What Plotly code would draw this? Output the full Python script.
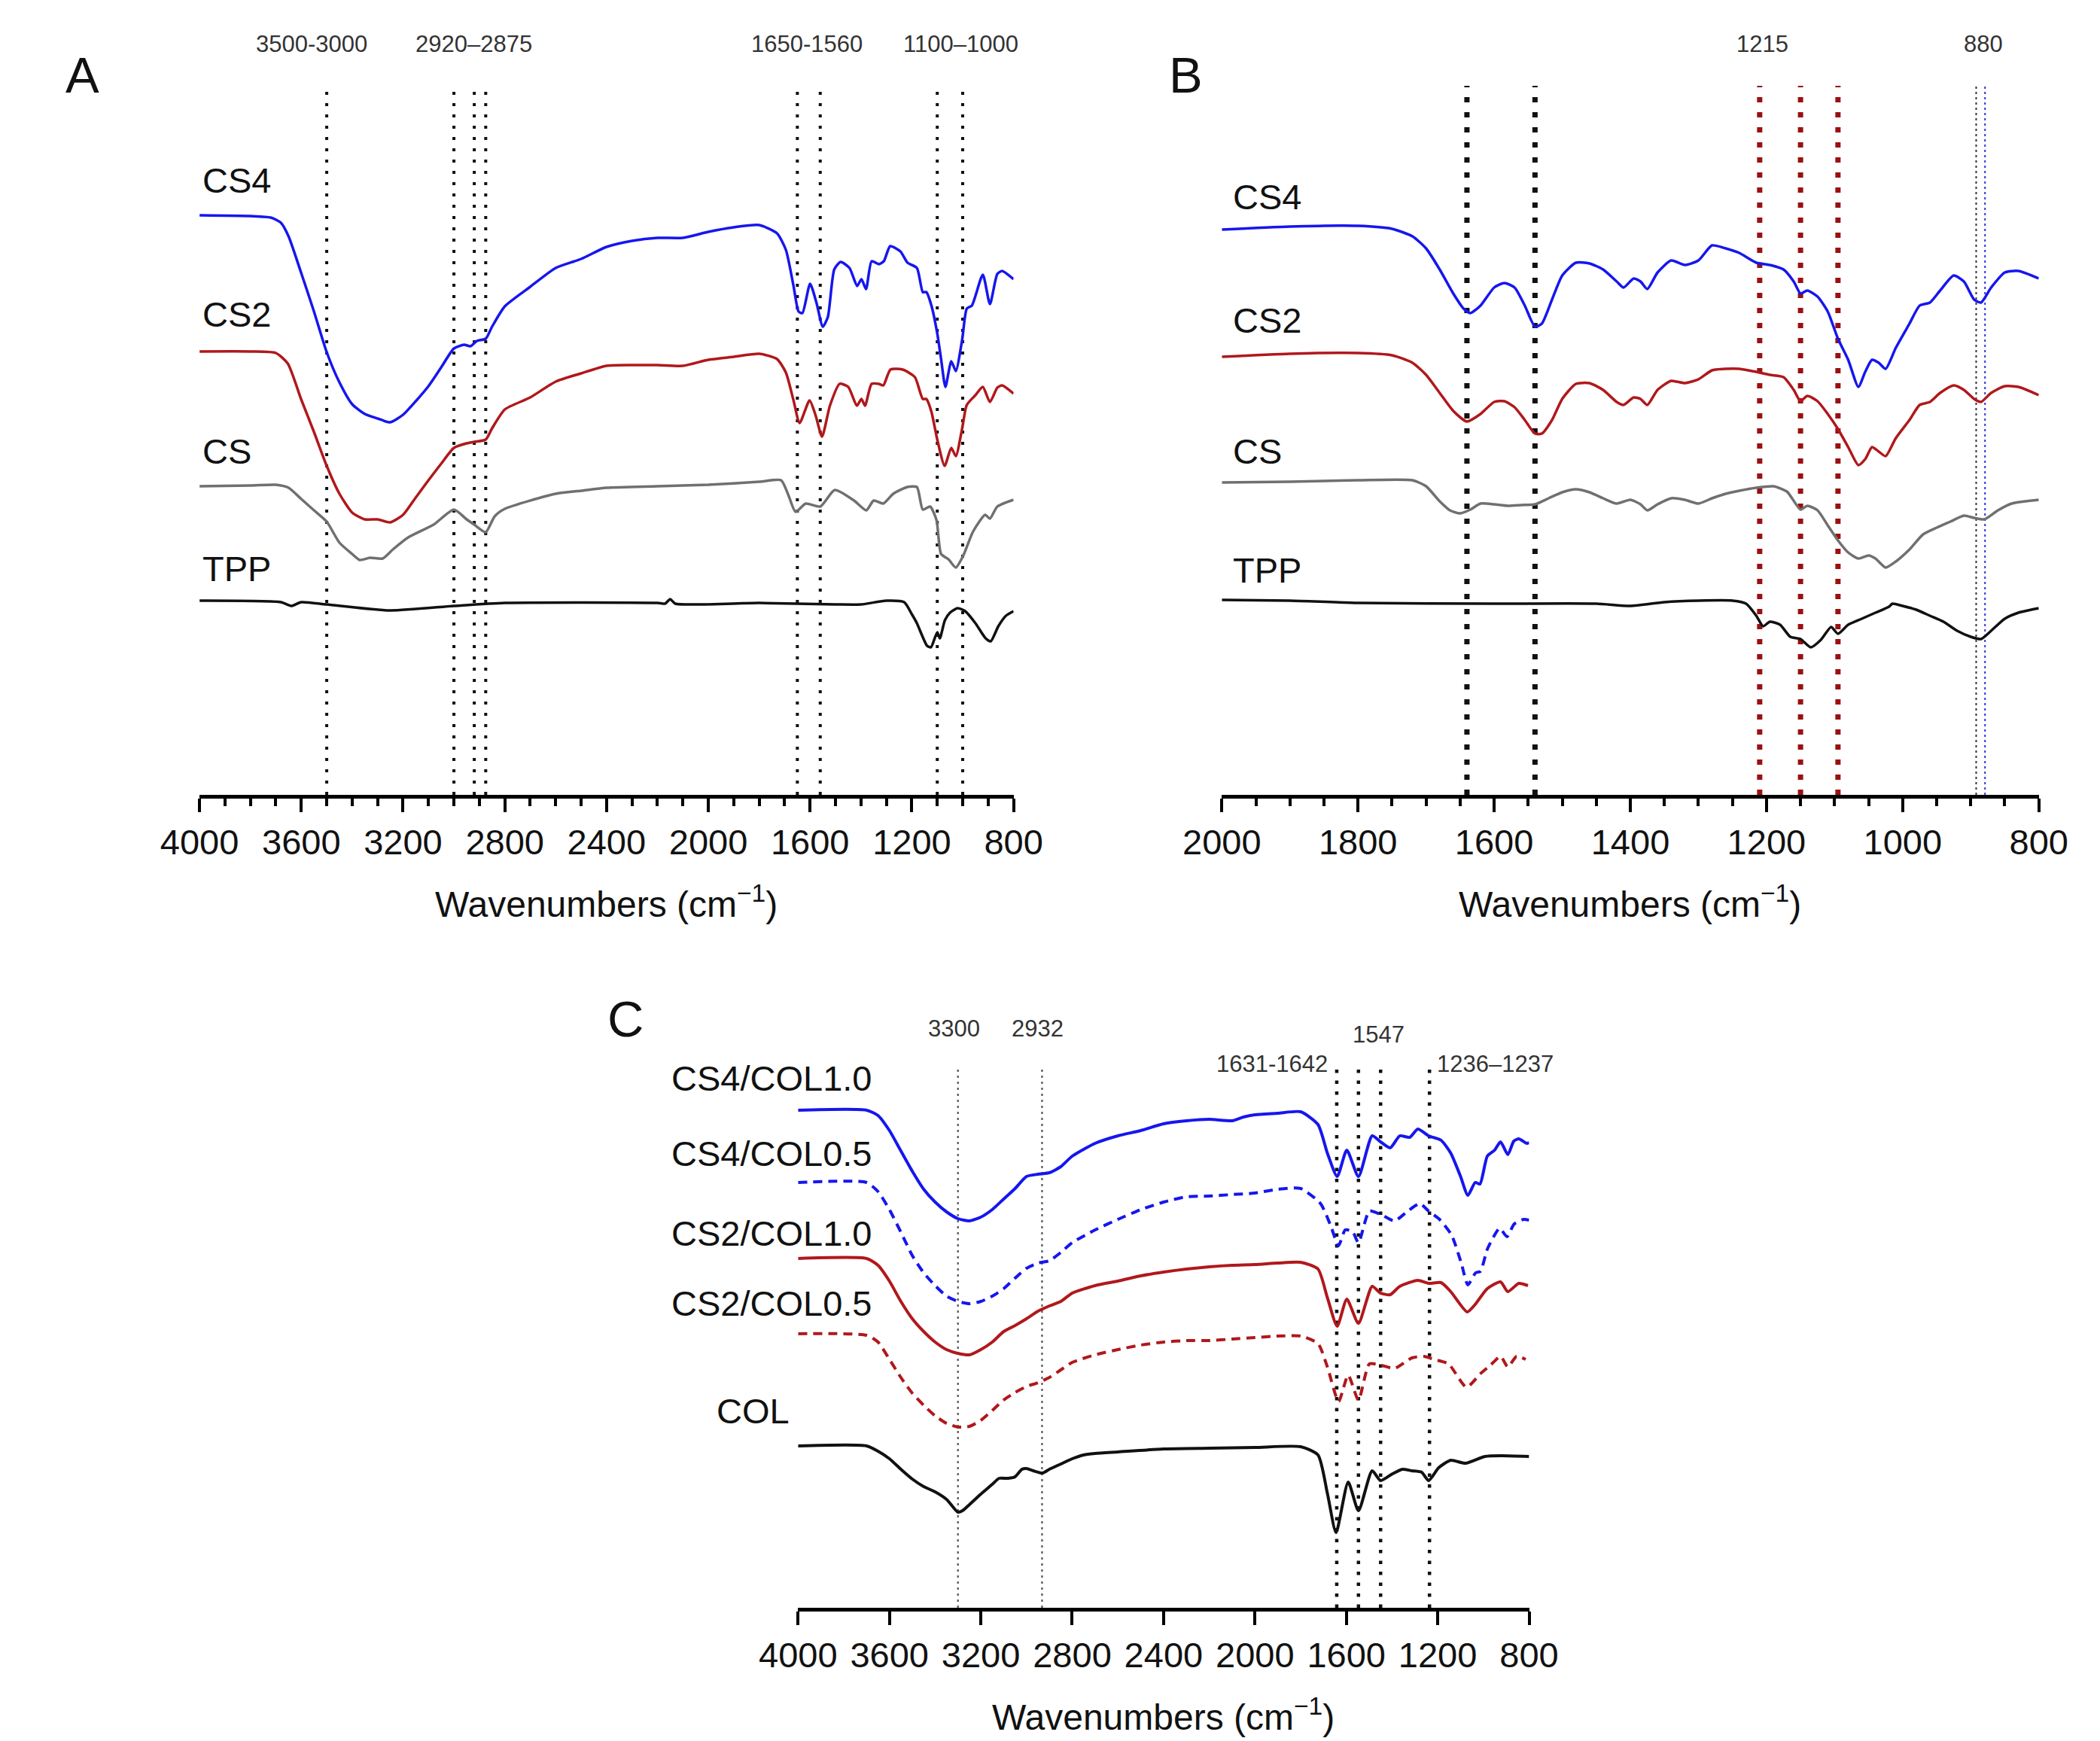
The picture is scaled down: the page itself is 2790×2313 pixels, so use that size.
import plotly.graph_objects as go

W, H = 2790, 2313
FONT = "Liberation Sans, Arial, sans-serif"

BLUE = "#1616EE"
RED = "#B0181C"
GREY = "#707070"
BLACK = "#111111"
DARKRED = "#9A1010"

# ---------------- Panel A: 4000-800 cm-1 (offset transmittance, a.u.) ----------------
A_CS4_WN = [4000, 3800, 3720, 3680, 3650, 3600, 3550, 3500, 3450, 3400, 3350, 3300, 3250, 3200, 3150, 3100,
            3050, 3000, 2960, 2935, 2910, 2875, 2850, 2800, 2700, 2600, 2500, 2400, 2300, 2200, 2100, 2000,
            1900, 1800, 1730, 1695, 1665, 1645, 1630, 1600, 1575, 1550, 1530, 1505, 1480, 1445, 1415, 1398,
            1380, 1358, 1330, 1310, 1285, 1245, 1217, 1180, 1157, 1143, 1123, 1100, 1085, 1068, 1045, 1027,
            1002, 984, 964, 921, 893, 864, 845, 800]
A_CS4_T = [770, 769, 767, 760, 742, 693, 642, 588, 548, 519, 506, 500, 495, 505, 523, 543,
           568, 593, 598, 596, 603, 606, 622, 649, 675, 700, 712, 728, 736, 740, 740, 748,
           754, 757, 746, 724, 676, 642, 640, 679, 654, 622, 635, 698, 708, 700, 676, 685,
           672, 709, 705, 709, 729, 722, 707, 700, 668, 668, 650, 613, 579, 542, 576, 563,
           605, 646, 650, 691, 652, 692, 696, 685]

A_CS2_WN = [4000, 3800, 3700, 3653, 3600, 3550, 3500, 3450, 3400, 3350, 3300, 3250, 3200, 3150, 3100, 3050,
            3000, 2950, 2920, 2875, 2850, 2800, 2700, 2600, 2500, 2400, 2300, 2200, 2100, 2000, 1900, 1800,
            1730, 1695, 1665, 1641, 1602, 1579, 1553, 1522, 1484, 1450, 1416, 1398, 1384, 1358, 1330, 1312,
            1284, 1236, 1188, 1157, 1143, 1123, 1100, 1071, 1045, 1027, 1002, 984, 950, 921, 893, 864, 845,
            800]
A_CS2_T = [589, 589, 587, 573, 525, 482, 437, 400, 375, 366, 366, 362, 372, 395, 418, 440,
           461, 467, 469, 472, 487, 512, 528, 549, 560, 570, 571, 571, 570, 578, 582, 586,
           579, 561, 524, 494, 524, 505, 476, 517, 546, 542, 517, 526, 517, 546, 546, 544,
           565, 565, 555, 526, 526, 509, 472, 437, 461, 450, 487, 518, 531, 542, 522, 541, 544,
           533]

A_CS_WN = [4000, 3800, 3700, 3650, 3600, 3550, 3500, 3450, 3400, 3370, 3330, 3280, 3240, 3180, 3080, 3000,
           2950, 2920, 2875, 2840, 2800, 2600, 2500, 2400, 2200, 2000, 1800, 1714, 1685, 1657, 1617, 1560,
           1503, 1427, 1379, 1350, 1312, 1273, 1217, 1180, 1157, 1128, 1103, 1085, 1056, 1027, 999, 959,
           912, 893, 864, 800]
A_CS_T = [410, 411, 412, 408, 393, 378, 363, 335, 320, 312, 315, 314, 326, 342, 359, 379,
          366, 359, 349, 370, 380, 400, 404, 408, 410, 412, 416, 418, 398, 376, 387, 383,
          405, 391, 378, 391, 387, 400, 409, 409, 379, 383, 365, 320, 313, 302, 317, 350,
          372, 367, 383, 392]

A_TPP_WN = [4000, 3680, 3640, 3600, 3500, 3250, 3000, 2800, 2200, 2170, 2150, 2130, 1800, 1500, 1400, 1300,
            1230, 1200, 1180, 1160, 1140, 1125, 1100, 1090, 1070, 1050, 1020, 990, 950, 910, 890, 860, 830,
            800]
A_TPP_T = [258, 256, 251, 256, 253, 245, 251, 255, 255, 254, 260, 254, 255, 253, 253, 258,
           256, 240, 228, 212, 198, 196, 216, 208, 232, 242, 248, 244, 228, 208, 204, 224, 238,
           244]

A_LINES = [3500, 3000, 2920, 2875, 1650, 1560, 1100, 1000]
A_PEAK_TEXT = ["3500-3000", "2920\u20132875", "1650-1560", "1100\u20131000"]
A_PEAK_POS = [3559, 2921, 1612, 1008]
A_NAMES = ["CS4", "CS2", "CS", "TPP"]
A_NAME_Y = [816, 638, 456, 300]

# ---------------- Panel B: 2000-800 cm-1 ----------------
B_CS4_WN = [2000, 1900, 1800, 1750, 1720, 1700, 1680, 1660, 1645, 1635, 1620, 1600, 1585, 1570, 1555, 1540,
            1530, 1515, 1500, 1480, 1460, 1440, 1420, 1410, 1395, 1385, 1375, 1360, 1340, 1320, 1300, 1280,
            1260, 1240, 1215, 1195, 1175, 1160, 1150, 1140, 1125, 1110, 1095, 1080, 1065, 1055, 1045, 1035,
            1025, 1010, 990, 975, 960, 945, 925, 910, 895, 885, 870, 850, 830, 800]
B_CS4_T = [751, 755, 756, 752, 742, 726, 698, 666, 646, 640, 650, 674, 680, 674, 650, 622,
           626, 658, 690, 707, 706, 698, 682, 674, 686, 682, 672, 694, 710, 704, 710, 730,
           726, 720, 707, 704, 698, 682, 666, 670, 662, 642, 606, 578, 542, 562, 578, 574,
           566, 594, 626, 650, 654, 670, 690, 682, 658, 654, 674, 694, 696, 686]

B_CS2_WN = [2000, 1900, 1800, 1750, 1720, 1700, 1680, 1660, 1640, 1620, 1600, 1585, 1570, 1555, 1540, 1530,
            1515, 1500, 1480, 1460, 1440, 1420, 1410, 1395, 1385, 1375, 1360, 1340, 1320, 1300, 1280, 1260,
            1240, 1215, 1195, 1175, 1160, 1150, 1140, 1125, 1110, 1095, 1080, 1065, 1055, 1045, 1035, 1025,
            1010, 990, 975, 960, 945, 925, 910, 895, 885, 870, 850, 830, 800]
B_CS2_T = [582, 586, 587, 584, 574, 558, 534, 510, 496, 506, 522, 523, 515, 498, 480, 480,
           498, 526, 546, 547, 538, 522, 518, 528, 526, 518, 538, 550, 547, 552, 564, 566,
           566, 562, 558, 555, 538, 523, 530, 523, 506, 486, 462, 438, 446, 462, 456, 450,
           474, 498, 518, 522, 534, 544, 538, 526, 522, 534, 543, 542, 531]

B_CS_WN = [2000, 1900, 1800, 1720, 1700, 1680, 1665, 1650, 1635, 1620, 1600, 1580, 1560, 1540, 1520, 1500,
           1480, 1460, 1440, 1420, 1400, 1385, 1375, 1360, 1340, 1320, 1300, 1280, 1260, 1240, 1215, 1190,
           1170, 1150, 1140, 1125, 1110, 1095, 1080, 1065, 1050, 1040, 1025, 1010, 990, 970, 950, 930, 910,
           895, 880, 860, 840, 820, 800]
B_CS_T = [415, 416, 418, 418, 410, 390, 378, 374, 379, 387, 386, 384, 385, 386, 394, 402,
          406, 402, 394, 387, 392, 386, 378, 386, 394, 392, 387, 394, 400, 404, 408, 410,
          403, 379, 384, 378, 358, 338, 322, 314, 318, 314, 302, 310, 326, 346, 355, 363, 371,
          368, 366, 378, 387, 390, 392]

B_TPP_WN = [2000, 1900, 1800, 1600, 1450, 1400, 1350, 1300, 1250, 1230, 1215, 1205, 1195, 1180, 1165, 1150,
            1135, 1120, 1105, 1095, 1080, 1060, 1040, 1020, 1015, 1000, 980, 960, 940, 920, 900, 885, 870,
            850, 830, 800]
B_TPP_T = [259, 258, 255, 254, 254, 251, 256, 258, 258, 254, 238, 224, 230, 226, 210, 207,
           196, 206, 223, 214, 226, 234, 242, 250, 254, 251, 246, 238, 230, 218, 210, 207, 218,
           234, 242, 248]

B_LINES_BLACK = [1640, 1540]
B_LINES_RED = [1210, 1150, 1095]
B_LINE_THIN_BLACK = 892
B_LINE_THIN_BLUE = 879
B_PEAK_TEXT = ["1215", "880"]
B_PEAK_POS = [1206, 882]
B_NAMES = ["CS4", "CS2", "CS", "TPP"]
B_NAME_Y = [794, 630, 456, 298]

# ---------------- Panel C: collagen composites ----------------
C_CS4_10_WN = [4000, 3700, 3650, 3600, 3550, 3500, 3450, 3400, 3350, 3300, 3250, 3200, 3150, 3100, 3050,
               3000, 2950, 2900, 2850, 2800, 2700, 2600, 2500, 2400, 2300, 2200, 2100, 2050, 2000, 1900,
               1800, 1724, 1683, 1640, 1598, 1547, 1487, 1450, 1408, 1366, 1323, 1287, 1240, 1185, 1143,
               1100, 1068, 1036, 1015, 983, 951, 925, 893, 867, 845, 810, 800]
C_CS4_10_T = [661, 661, 654, 634, 607, 580, 556, 539, 526, 517, 514, 519, 529, 543, 557,
              573, 576, 578, 586, 600, 617, 627, 634, 643, 647, 649, 647, 652, 655, 657,
              659, 642, 604, 573, 608, 573, 627, 619, 611, 627, 625, 636, 627, 621, 604,
              573, 548, 565, 563, 600, 608, 619, 602, 620, 623, 617, 618]

C_CS4_05_WN = [4000, 3700, 3650, 3600, 3550, 3500, 3450, 3400, 3350, 3300, 3250, 3200, 3150, 3100, 3050,
               3000, 2950, 2900, 2850, 2800, 2700, 2600, 2500, 2400, 2300, 2200, 2100, 2000, 1900, 1800,
               1713, 1669, 1634, 1605, 1573, 1547, 1499, 1446, 1389, 1331, 1278, 1240, 1192, 1139, 1097,
               1068, 1034, 1013, 982, 929, 897, 865, 823, 800]
C_CS4_05_T = [565, 565, 553, 529, 499, 468, 445, 428, 414, 407, 404, 407, 414, 424, 438,
              451, 458, 461, 472, 485, 502, 516, 529, 539, 546, 547, 549, 551, 556, 557,
              537, 508, 481, 502, 500, 485, 527, 522, 514, 527, 537, 527, 516, 495, 458,
              429, 445, 447, 477, 504, 493, 510, 516, 515]

C_CS2_10_WN = [4000, 3700, 3650, 3600, 3550, 3500, 3450, 3400, 3350, 3300, 3250, 3200, 3150, 3100, 3050,
               3000, 2950, 2900, 2850, 2800, 2700, 2600, 2500, 2400, 2300, 2200, 2100, 2000, 1900, 1800,
               1724, 1683, 1640, 1598, 1547, 1487, 1450, 1408, 1366, 1287, 1240, 1185, 1143, 1071, 1036,
               983, 925, 893, 845, 805]
C_CS2_10_T = [464, 464, 455, 434, 407, 384, 367, 353, 343, 338, 336, 343, 353, 367, 375,
              384, 394, 401, 407, 418, 428, 434, 441, 446, 450, 453, 455, 456, 458, 459,
              450, 412, 374, 410, 378, 427, 418, 416, 427, 435, 431, 432, 420, 393, 403,
              424, 433, 420, 431, 428]

C_CS2_05_WN = [4000, 3700, 3650, 3600, 3550, 3500, 3450, 3400, 3350, 3300, 3250, 3200, 3150, 3100, 3050,
               3000, 2950, 2900, 2850, 2800, 2700, 2600, 2500, 2400, 2300, 2200, 2100, 2000, 1900, 1800,
               1724, 1683, 1634, 1592, 1547, 1499, 1446, 1389, 1313, 1260, 1217, 1153, 1074, 1013, 970,
               925, 893, 855, 815]
C_CS2_05_T = [364, 362, 353, 330, 306, 285, 269, 255, 245, 240, 241, 249, 262, 276, 286,
              294, 299, 306, 316, 326, 336, 343, 349, 353, 355, 355, 357, 359, 361, 361,
              351, 320, 274, 309, 276, 324, 322, 318, 332, 334, 330, 324, 293, 311, 322,
              334, 320, 334, 330]

C_COL_WN = [4000, 3700, 3650, 3600, 3550, 3500, 3450, 3400, 3350, 3300, 3280, 3250, 3200, 3150, 3120,
            3080, 3050, 3020, 3000, 2970, 2930, 2900, 2850, 2800, 2750, 2700, 2600, 2400, 2200, 2000,
            1800, 1724, 1683, 1645, 1592, 1547, 1487, 1450, 1398, 1355, 1313, 1270, 1240, 1196, 1143,
            1079, 994, 920, 800]
C_COL_T = [215, 215, 208, 198, 184, 171, 161, 154, 144, 127, 129, 137, 151, 164, 172,
           172, 174, 184, 185, 182, 179, 184, 191, 198, 203, 205, 207, 211, 212, 213,
           214, 203, 152, 100, 167, 129, 182, 169, 178, 184, 182, 180, 169, 186, 196,
           192, 201, 202, 201]

C_LINES_THIN = [3300, 2932]
C_LINES_BLACK = [1642, 1547, 1450, 1236]
C_PEAK_TEXT = ["3300", "2932", "1631-1642", "1547", "1236\u20131237"]
C_PEAK_POS = [3316, 2953, 1926, 1459, 947]
C_PEAK_Y = [770, 770, 723, 762, 723]
C_NAMES = ["CS4/COL1.0", "CS4/COL0.5", "CS2/COL1.0", "CS2/COL0.5", "COL"]
C_NAME_X = [858, 858, 858, 858, 920]
C_NAME_Y = [704, 604, 498, 405, 262]

# ---------------- layout geometry (pixels) ----------------
A_X0, A_X1, B_X0, B_X1, AB_BASE, AB_TOP = 212, 1330, 1616, 2738, 1048, 30
C_X0, C_X1, C_BASE, C_TOP = 1034, 2038, 2128, 1240


def px(p):
    return p / W


def py(p):
    return 1 - p / H


fig = go.Figure()


def vline(w, top, color, xa, ya, width, dash):
    fig.add_trace(go.Scatter(x=[w, w], y=[0, top], mode="lines", xaxis=xa, yaxis=ya,
                             line=dict(color=color, width=width, dash=dash),
                             hoverinfo="skip", showlegend=False))


def curve(wn, t, color, xa, ya, dash="solid", width=3.5):
    fig.add_trace(go.Scatter(x=wn, y=t, mode="lines", xaxis=xa, yaxis=ya,
                             line=dict(color=color, width=width, dash=dash,
                                       shape="spline", smoothing=0.6),
                             hoverinfo="skip", showlegend=False))


# marker lines
for w in A_LINES:
    vline(w, 944, BLACK, "x", "y", 4, "4px,11px")
for w in B_LINES_BLACK:
    vline(w, 942, BLACK, "x2", "y2", 7, "7px,13px")
for w in B_LINES_RED:
    vline(w, 942, DARKRED, "x2", "y2", 7, "7px,13px")
vline(B_LINE_THIN_BLACK, 942, "#333333", "x2", "y2", 2, "3px,4px")
vline(B_LINE_THIN_BLUE, 942, "#3333DD", "x2", "y2", 2, "3px,4px")
for w in C_LINES_THIN:
    vline(w, 715, "#555555", "x3", "y3", 2.2, "3px,5px")
for w in C_LINES_BLACK:
    vline(w, 715, BLACK, "x3", "y3", 4.5, "4.5px,10px")

# spectra
curve(A_CS4_WN, A_CS4_T, BLUE, "x", "y")
curve(A_CS2_WN, A_CS2_T, RED, "x", "y")
curve(A_CS_WN, A_CS_T, GREY, "x", "y")
curve(A_TPP_WN, A_TPP_T, BLACK, "x", "y")

curve(B_CS4_WN, B_CS4_T, BLUE, "x2", "y2")
curve(B_CS2_WN, B_CS2_T, RED, "x2", "y2")
curve(B_CS_WN, B_CS_T, GREY, "x2", "y2")
curve(B_TPP_WN, B_TPP_T, BLACK, "x2", "y2")

curve(C_CS4_10_WN, C_CS4_10_T, BLUE, "x3", "y3", width=4)
curve(C_CS4_05_WN, C_CS4_05_T, BLUE, "x3", "y3", dash="12px,8px", width=4)
curve(C_CS2_10_WN, C_CS2_10_T, RED, "x3", "y3", width=4)
curve(C_CS2_05_WN, C_CS2_05_T, RED, "x3", "y3", dash="12px,8px", width=4)
curve(C_COL_WN, C_COL_T, BLACK, "x3", "y3", width=4)


def xaxis(x0, x1, rng, dtick, anchor, minor=None):
    d = dict(domain=[px(x0), px(x1)], range=rng, anchor=anchor, showgrid=False,
             zeroline=False, showline=True, linecolor="black", linewidth=5,
             ticks="outside", ticklen=18, tickwidth=4, tickcolor="black",
             dtick=dtick, tick0=0,
             tickfont=dict(family=FONT, size=47, color="#111111"), fixedrange=True)
    if minor:
        d["minor"] = dict(dtick=minor, tick0=0, ticks="outside", ticklen=10,
                          tickwidth=4, tickcolor="black")
    return d


def yaxis(base, top, anchor):
    return dict(domain=[py(base), py(top)], range=[0, base - top], anchor=anchor,
                visible=False, fixedrange=True)


ann = []


def text(x, y, s, size, xref, yref, xanchor="center", color="#111111"):
    ann.append(dict(x=x, y=y, text=s, xref=xref, yref=yref, xanchor=xanchor,
                    yanchor="middle", showarrow=False,
                    font=dict(family=FONT, size=size, color=color)))


# panel letters
text(px(51), py(92), "A", 67, "paper", "paper")
text(px(1567), py(92), "B", 67, "paper", "paper")
text(px(797), py(1345), "C", 67, "paper", "paper")

# axis titles
title = "Wavenumbers (cm<sup>\u22121</sup>)"
text(px((A_X0 + A_X1) / 2), py(1190), title, 48, "paper", "paper")
text(px((B_X0 + B_X1) / 2), py(1190), title, 48, "paper", "paper")
text(px((C_X0 + C_X1) / 2), py(2270), title, 48, "paper", "paper")

# series labels
for name, yv in zip(A_NAMES, A_NAME_Y):
    text(px(A_X0 + 2), yv, name, 47, "paper", "y", xanchor="left")
for name, yv in zip(B_NAMES, B_NAME_Y):
    text(px(B_X0 + 13), yv, name, 47, "paper", "y2", xanchor="left")
for name, xp, yv in zip(C_NAMES, C_NAME_X, C_NAME_Y):
    text(px(xp), yv, name, 47, "paper", "y3", xanchor="left")

# peak labels
for s, w in zip(A_PEAK_TEXT, A_PEAK_POS):
    text(w, py(50), s, 31, "x", "paper", color="#333333")
for s, w in zip(B_PEAK_TEXT, B_PEAK_POS):
    text(w, py(50), s, 31, "x2", "paper", color="#333333")
for s, w, yv in zip(C_PEAK_TEXT, C_PEAK_POS, C_PEAK_Y):
    text(w, yv, s, 31, "x3", "y3", color="#333333")

fig.update_layout(
    width=W, height=H,
    margin=dict(l=0, r=0, t=0, b=0),
    paper_bgcolor="white", plot_bgcolor="white",
    showlegend=False,
    xaxis=xaxis(A_X0, A_X1, [4000, 800], 400, "y", 100),
    yaxis=yaxis(AB_BASE, AB_TOP, "x"),
    xaxis2=xaxis(B_X0, B_X1, [2000, 800], 200, "y2", 50),
    yaxis2=yaxis(AB_BASE, AB_TOP, "x2"),
    xaxis3=xaxis(C_X0, C_X1, [4000, 800], 400, "y3"),
    yaxis3=yaxis(C_BASE, C_TOP, "x3"),
    annotations=ann,
)

fig.write_html("out.html")
